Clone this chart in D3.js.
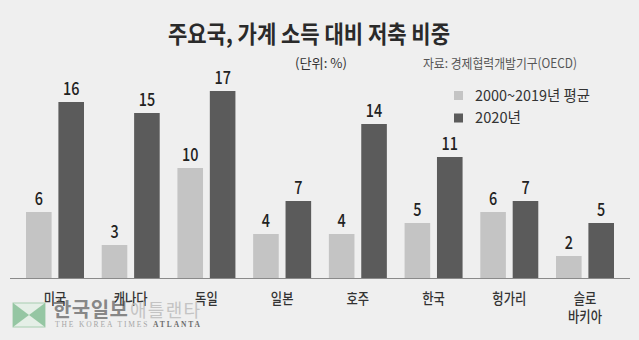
<!DOCTYPE html>
<html>
<head>
<meta charset="utf-8">
<script src="https://cdn.jsdelivr.net/npm/d3@7"></script>
<style>
  html, body { margin: 0; padding: 0; background: #efefef; }
  svg { display: block; }
  text { font-family: "Noto Sans CJK KR", "Noto Sans", sans-serif; }
  text.serif { font-family: "Liberation Serif", "DejaVu Serif", serif; }
</style>
</head>
<body>
<svg id="chart" width="639" height="340"></svg>
<script>
// Household savings as a share of disposable income (%), OECD
const countries = ["미국", "캐나다", "독일", "일본", "호주", "한국", "헝가리", "슬로바키아"];
const countryLines = [["미국"], ["캐나다"], ["독일"], ["일본"], ["호주"], ["한국"], ["헝가리"], ["슬로", "바키아"]];
const seriesNames = ["2000~2019년 평균", "2020년"];
const avg2000to2019 = [6, 3, 10, 4, 4, 5, 6, 2];
const year2020 = [16, 15, 17, 7, 14, 11, 7, 5];
const seriesColors = ["#c4c4c4", "#5b5b5b"];

const svg = d3.select("#chart");
const W = 639, H = 340;
svg.append("rect").attr("width", W).attr("height", H).attr("fill", "#efefef");

const rows = countries.map((c, i) => ({ country: c, lines: countryLines[i], values: [avg2000to2019[i], year2020[i]] }));

const x0 = d3.scaleBand().domain(countries).range([26, 614]).paddingInner(0.234).paddingOuter(0);
const x1 = d3.scaleBand().domain(seriesNames).range([0, x0.bandwidth()]).paddingInner(0.21).paddingOuter(0);
const y = d3.scaleLinear().domain([0, 17]).range([278, 91]);
const color = d3.scaleOrdinal().domain(seriesNames).range(seriesColors);

// Title and notes
svg.append("text").attr("x", 168).attr("y", 43)
  .attr("font-size", 24).attr("font-weight", 700).attr("fill", "#2a2a2a")
  .attr("textLength", 282).attr("lengthAdjust", "spacingAndGlyphs")
  .text("주요국, 가계 소득 대비 저축 비중");
svg.append("text").attr("x", 295).attr("y", 67.5)
  .attr("font-size", 13).attr("fill", "#333")
  .attr("textLength", 52).attr("lengthAdjust", "spacingAndGlyphs")
  .text("(단위: %)");
svg.append("text").attr("x", 423).attr("y", 67.5)
  .attr("font-size", 13).attr("fill", "#555")
  .attr("textLength", 154).attr("lengthAdjust", "spacingAndGlyphs")
  .text("자료: 경제협력개발기구(OECD)");

// Legend
const legend = svg.append("g");
const legendWidths = [115, 46];
seriesNames.forEach((s, i) => {
  const g = legend.append("g").attr("transform", `translate(454,${91 + i * 22.5})`);
  g.append("rect").attr("width", 9).attr("height", 9).attr("fill", color(s));
  g.append("text").attr("x", 21).attr("y", 9.5)
    .attr("font-size", 15).attr("fill", "#333")
    .attr("textLength", legendWidths[i]).attr("lengthAdjust", "spacingAndGlyphs")
    .text(s);
});

// Bars
const groups = svg.append("g").selectAll("g").data(rows).join("g")
  .attr("transform", d => `translate(${x0(d.country)},0)`);

groups.selectAll("rect").data(d => d.values.map((v, k) => ({ key: seriesNames[k], value: v })))
  .join("rect")
  .attr("x", d => x1(d.key))
  .attr("y", d => y(d.value))
  .attr("width", x1.bandwidth())
  .attr("height", d => y(0) - y(d.value))
  .attr("fill", d => color(d.key));

groups.selectAll("text.val").data(d => d.values.map((v, k) => ({ key: seriesNames[k], value: v })))
  .join("text").attr("class", "val")
  .attr("transform", d => `translate(${x1(d.key) + x1.bandwidth() / 2},${y(d.value) - 7}) scale(0.8,1)`)
  .attr("text-anchor", "middle")
  .attr("font-size", 18).attr("font-weight", 500).attr("fill", "#222")
  .text(d => d.value);

// Baseline
svg.append("line").attr("x1", 10).attr("x2", 630).attr("y1", y(0) + 0.5).attr("y2", y(0) + 0.5)
  .attr("stroke", "#8a8a8a").attr("stroke-width", 1);

// Category labels
groups.each(function(d) {
  const g = d3.select(this);
  d.lines.forEach((line, li) => {
    g.append("text")
      .attr("transform", `translate(${x0.bandwidth() / 2},${303.5 + li * 18}) scale(0.82,1)`)
      .attr("text-anchor", "middle")
      .attr("font-size", 15).attr("font-weight", 500).attr("fill", "#333")
      .text(line);
  });
});

// Publisher mark
const mark = svg.append("g").attr("opacity", 0.85);
mark.append("rect").attr("x", 13).attr("y", 303).attr("width", 32).attr("height", 24)
  .attr("fill", "#e4efe6").attr("stroke", "#9ccaa6").attr("stroke-width", 1);
mark.append("path").attr("d", "M13,303 L29,315 L13,327 Z").attr("fill", "#86c096");
mark.append("path").attr("d", "M45,303 L29,315 L45,327 Z").attr("fill", "#86c096");
mark.append("text").attr("x", 53).attr("y", 317)
  .attr("font-size", 20).attr("font-weight", 700).attr("fill", "#555").attr("fill-opacity", 0.8)
  .attr("textLength", 75).attr("lengthAdjust", "spacing")
  .text("한국일보");
mark.append("text").attr("x", 130).attr("y", 317)
  .attr("font-size", 18).attr("fill", "#bdbdbd")
  .attr("textLength", 70).attr("lengthAdjust", "spacing")
  .text("애틀랜타");
mark.append("text").attr("class", "serif").attr("x", 55).attr("y", 327)
  .attr("font-size", 7.5).attr("fill", "#999")
  .attr("textLength", 145).attr("lengthAdjust", "spacing")
  .text("THE KOREA TIMES ")
  .append("tspan").attr("fill", "#555").attr("font-weight", 700).text("ATLANTA");
</script>
</body>
</html>
